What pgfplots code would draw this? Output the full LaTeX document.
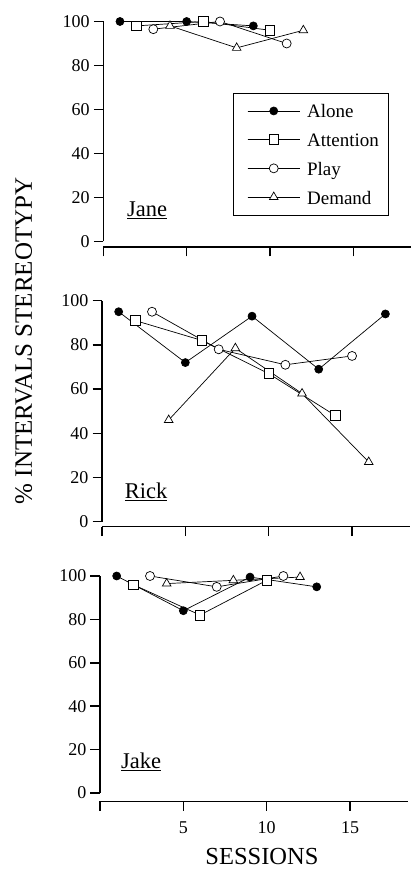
\documentclass[border=0pt]{standalone}
\usepackage{pgfplots}
\pgfplotsset{compat=1.18}
\usepackage{fontspec}
\setmainfont{Liberation Serif}
\pgfplotsset{
 panel/.style={
  scale only axis, width=308.4pt, xmin=0, xmax=18.5, ymin=0, ymax=100,
  separate axis lines, axis x line*=bottom, axis y line*=left,
  axis line style={line width=1.5pt},
  xtick={0,5,10,15}, ytick={0,20,40,60,80,100},
  tick align=outside, major tick length=9.5pt, tick style={line width=1.5pt, black},
  clip=false,
  /pgf/number format/assume math mode=true,
  ticklabel style={font=\fontsize{18}{20}\selectfont},
  yticklabel style={inner sep=0pt, xshift=-4pt},
  xticklabel style={inner sep=0pt, yshift=-11pt},
  every axis plot/.append style={black, line width=0.7pt},
  legend image code/.code={
    \path (-5pt,0pt);
    \draw[#1] (0pt,0pt) -- (52pt,0pt);
    \draw[mark repeat=2,mark phase=2,#1] plot coordinates {(0pt,0pt) (26pt,0pt) (52pt,0pt)};
  },
 },
 alone/.style={mark=*, mark size=4pt, mark options={solid, fill=black, line width=0.7pt}},
 atten/.style={mark=square*, mark size=4.8pt, mark options={solid, fill=white, line width=0.7pt}},
 play/.style={mark=*, mark size=4.5pt, mark options={solid, fill=white, line width=0.7pt}},
 demand/.style={mark=triangle*, mark size=5pt, mark options={solid, fill=white, line width=0.7pt}},
}
\newcommand{\nm}[1]{\fontsize{22.5}{24}\selectfont\underline{#1}}
\begin{document}
\begin{tikzpicture}
\path[use as bounding box] (0pt,0pt) rectangle (411pt,869pt);

% Jane
\begin{axis}[panel, height=220pt, at={(103.3pt,627.5pt)}, anchor=origin,
  axis x line shift=5.5pt, xticklabels={},
  legend style={at={(axis cs:7.78,67.7)}, anchor=north west, draw=black, line width=0.8pt,
    font=\fontsize{19}{21}\selectfont, inner xsep=9pt, inner ysep=6pt, row sep=4.7pt,
    column sep=6pt,
    cells={anchor=west}, nodes={text height=18pt, text depth=4pt, inner sep=1pt}},
  legend cell align=left]
\addplot[alone] coordinates {(1,100) (5,100) (9,98)};
\addlegendentry{Alone}
\addplot[atten] coordinates {(2,98) (6,100) (10,96)};
\addlegendentry{Attention}
\addplot[play] coordinates {(3,96.5) (7,100) (11,90)};
\addlegendentry{Play}
\addplot[demand] coordinates {(4,98) (8,88) (12,96)};
\addlegendentry{Demand}
\node[anchor=base west, inner sep=0pt] at (axis cs:1.42,11.3) {\nm{Jane}};
\end{axis}

% Rick
\begin{axis}[panel, height=221pt, at={(102pt,347.3pt)}, anchor=origin,
  axis x line shift=5pt, xticklabels={}]
\addplot[alone] coordinates {(1,95) (5,72) (9,93) (13,69) (17,94)};
\addplot[atten] coordinates {(2,91) (6,82) (10,67) (14,48)};
\addplot[play] coordinates {(3,95) (7,78) (11,71) (15,75)};
\addplot[demand] coordinates {(4,46) (8,78.5) (12,58) (16,27)};
\node[anchor=base west, inner sep=0pt] at (axis cs:1.36,10.3) {\nm{Rick}};
\end{axis}

% Jake
\begin{axis}[panel, height=217pt, at={(100pt,76pt)}, anchor=origin,
  axis x line shift=8.3pt, xticklabels={,5,10,15}]
\addplot[alone] coordinates {(1,100) (5,84) (9,99.5) (13,95)};
\addplot[atten] coordinates {(2,96) (6,82) (10,98)};
\addplot[play] coordinates {(3,100) (7,95) (11,100)};
\addplot[demand] coordinates {(4,96.5) (8,98) (12,99.5)};
\node[anchor=base west, inner sep=0pt] at (axis cs:1.26,11.4) {\nm{Jake}};
\end{axis}

\node[rotate=90, anchor=base, inner sep=0pt, font=\fontsize{25}{27}\selectfont] at (32pt,528pt) {\% INTERVALS STEREOTYPY};
\node[anchor=base, inner sep=0pt, font=\fontsize{24.5}{26}\selectfont] at (262pt,5pt) {SESSIONS};
\end{tikzpicture}
\end{document}
